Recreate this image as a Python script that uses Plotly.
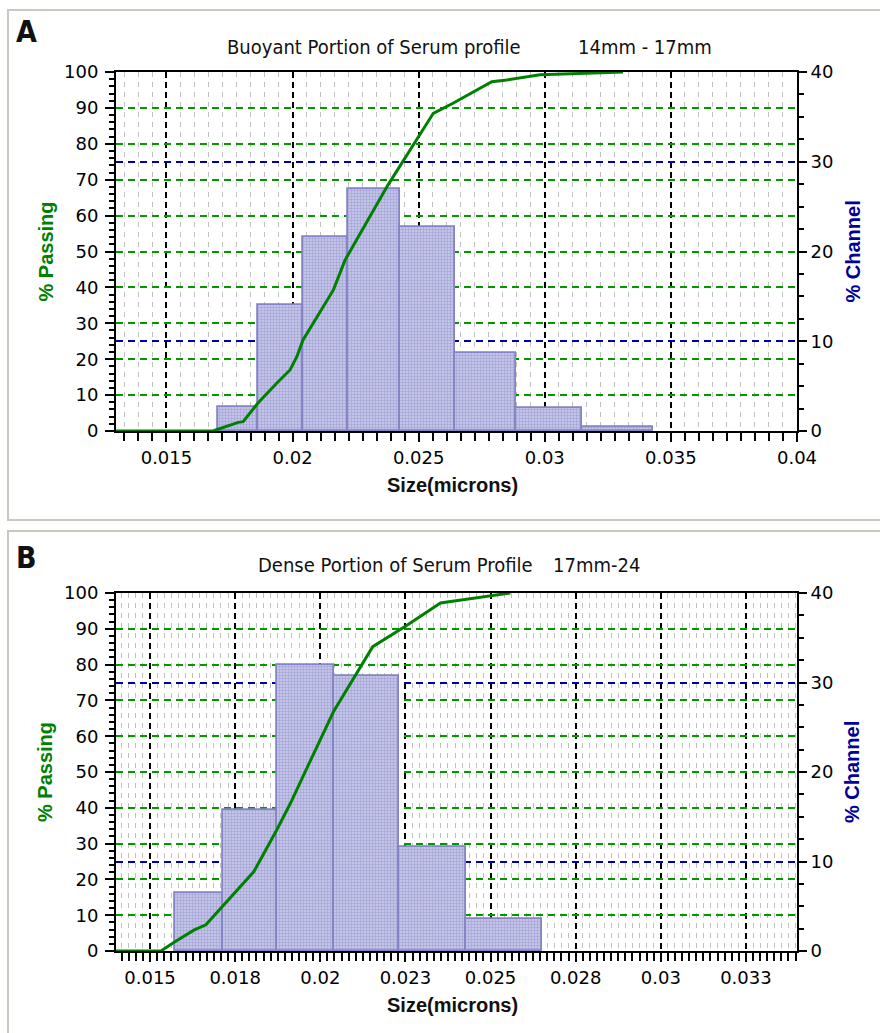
import plotly.graph_objects as go

W, H = 880, 1033

# ---------------- Panel A data ----------------
a_title = "Buoyant Portion of Serum profile"
a_subtitle = "14mm - 17mm"
a_bin_edges = [0.01704, 0.01863, 0.02041, 0.0222, 0.02426, 0.02644, 0.02886, 0.03147, 0.03429]
a_channel = [2.7, 14.0, 21.6, 27.0, 22.7, 8.7, 2.6, 0.4]
a_cum_x = [0.013, 0.01685, 0.01704, 0.01785, 0.01804, 0.01863, 0.01937, 0.0199, 0.02017,
           0.02041, 0.02162, 0.02208, 0.02378, 0.02492, 0.02558, 0.02636, 0.0279, 0.02849,
           0.02981, 0.0331]
a_cum_y = [0, 0, 0.5, 2.4, 2.6, 7.8, 13.3, 17, 20.7, 25.3, 39.3, 47.6, 68.5, 81, 88.5, 91.3,
           97.3, 97.8, 99.2, 100]
a_tickvals = [0.015, 0.02, 0.025, 0.03, 0.035, 0.04]
a_ticktext = ["0.015", "0.02", "0.025", "0.03", "0.035", "0.04"]

# ---------------- Panel B data ----------------
b_title = "Dense Portion of Serum Profile"
b_subtitle = "17mm-24"
b_bin_edges = [0.01574, 0.01713, 0.01872, 0.0204, 0.02231, 0.02428, 0.02651]
b_channel = [6.5, 15.7, 32.0, 30.7, 11.6, 3.6]
b_cum_x = [0.014, 0.01532, 0.01573, 0.01630, 0.01664, 0.01713, 0.01805, 0.01872, 0.01913,
           0.01972, 0.02039, 0.02154, 0.0225, 0.02353, 0.025, 0.02558]
b_cum_y = [0, 0, 2.6, 5.9, 7.3, 12.4, 22.2, 33.8, 41.4, 53.4, 66.9, 85, 90.7, 97.2, 99.3, 100]
b_tickvals = [0.015, 0.0175, 0.02, 0.0225, 0.025, 0.0275, 0.03, 0.0325]
b_ticktext = ["0.015", "0.018", "0.02", "0.023", "0.025", "0.028", "0.03", "0.033"]

x_label = "Size(microns)"
left_label = "% Passing"
right_label = "% Channel"

GREEN = "#008000"
GRID_GREEN = "#009a00"
GRID_BLUE = "#0000a0"
BAR_FILL = "#b8b8e2"
BAR_LINE = "#8484c4"
TICKFONT = dict(family="DejaVu Sans", size=18, color="black")


def px_x(p):
    return p / W


def px_y(p):
    return 1 - p / H


def bars(edges, vals, yaxis, xaxis):
    centers = [(edges[i] + edges[i + 1]) / 2 for i in range(len(vals))]
    widths = [edges[i + 1] - edges[i] for i in range(len(vals))]
    return go.Bar(
        x=centers, y=vals, width=widths, xaxis=xaxis, yaxis=yaxis,
        marker=dict(color=BAR_FILL, line=dict(color=BAR_LINE, width=1.8),
                    pattern=dict(shape=".", fgcolor="#7c7cc0", bgcolor="#cdcdee",
                                 size=3, solidity=0.5)),
        showlegend=False, hoverinfo="x+y",
    )


def line(xs, ys, yaxis, xaxis):
    return go.Scatter(x=xs, y=ys, mode="lines", xaxis=xaxis, yaxis=yaxis,
                      line=dict(color=GREEN, width=3), showlegend=False)


fig = go.Figure()
fig.add_trace(bars(a_bin_edges, a_channel, "y", "x"))
fig.add_trace(line(a_cum_x, a_cum_y, "y2", "x"))
fig.add_trace(bars(b_bin_edges, b_channel, "y3", "x2"))
fig.add_trace(line(b_cum_x, b_cum_y, "y4", "x2"))

xdom = [px_x(116), px_x(797)]
a_ydom = [px_y(431), px_y(72)]
b_ydom = [px_y(951), px_y(593)]


def xaxis_cfg(rng, tv, tt, minor_dtick, anchor):
    return dict(
        domain=xdom, anchor=anchor, range=rng, tickmode="array", tickvals=tv, ticktext=tt,
        automargin=False,
        showline=True, linecolor="black", linewidth=2, mirror=True,
        ticks="outside", ticklen=9, tickwidth=1.5, tickcolor="black",
        tickfont=TICKFONT, ticklabelstandoff=0,
        showgrid=True, gridcolor="black", gridwidth=1.5, griddash="6px,4px",
        zeroline=False,
        minor=dict(tickmode="linear", tick0=tv[0], dtick=minor_dtick, ticks="outside",
                   ticklen=8, tickwidth=1.5, tickcolor="black",
                   showgrid=True, gridcolor="#c0c0c0", gridwidth=1.3, griddash="5px,5px"),
    )


def right_cfg(dom, anchor):
    return dict(
        domain=dom, anchor=anchor, side="right", range=[0, 40], tickmode="linear", tick0=0,
        dtick=10, showline=True, linecolor="black", linewidth=2, automargin=False,
        ticks="outside", ticklen=8, tickwidth=1.5, tickcolor="black",
        tickfont=TICKFONT, ticklabelstandoff=0,
        showgrid=True, gridcolor=GRID_BLUE, gridwidth=1.5, griddash="7px,5px",
        zeroline=False,
        minor=dict(tickmode="linear", tick0=0, dtick=2.5, ticks="outside", ticklen=5,
                   tickwidth=1.5, tickcolor="black", showgrid=False),
    )


def left_cfg(overlay, anchor):
    return dict(
        overlaying=overlay, anchor=anchor, side="left", range=[0, 100], tickmode="linear",
        tick0=0, dtick=10, showline=True, linecolor="black", linewidth=2, automargin=False,
        ticks="outside", ticklen=9, tickwidth=1.5, tickcolor="black",
        tickfont=TICKFONT, ticklabelstandoff=3,
        showgrid=True, gridcolor=GRID_GREEN, gridwidth=1.5, griddash="7px,5px",
        zeroline=False,
        minor=dict(tickmode="linear", tick0=0, dtick=2, ticks="outside", ticklen=5,
                   tickwidth=1.5, tickcolor="black", showgrid=False),
    )


fig.update_layout(
    width=W, height=H, margin=dict(l=0, r=0, t=0, b=0, autoexpand=False),
    paper_bgcolor="white", plot_bgcolor="white", bargap=0, showlegend=False,
    xaxis=xaxis_cfg([0.013, 0.04], a_tickvals, a_ticktext, 0.005 / 9, "y"),
    yaxis=right_cfg(a_ydom, "x"),
    yaxis2=left_cfg("y", "x"),
    xaxis2=xaxis_cfg([0.014, 0.034], b_tickvals, b_ticktext, 0.0025 / 12, "y3"),
    yaxis3=right_cfg(b_ydom, "x2"),
    yaxis4=left_cfg("y3", "x2"),
)

# panel frames
for y0, y1 in [(10, 520), (531, 1040)]:
    fig.add_shape(type="rect", xref="paper", yref="paper", x0=px_x(8), x1=1.02,
                  y0=px_y(y1), y1=px_y(y0), line=dict(color="#c8c8c0", width=2),
                  layer="below")

TITLE_FONT = dict(family="DejaVu Sans Condensed", size=20, color="#111111")
PANEL_FONT = dict(family="DejaVu Sans Condensed", size=30, color="#111111")
LABEL_FONT = dict(family="Liberation Sans, Arial", size=20)

ann = []


def add_text(text, x, y, font, angle=0, xanchor="center"):
    ann.append(dict(text=text, x=px_x(x), y=px_y(y), xref="paper", yref="paper",
                    xanchor=xanchor, yanchor="middle", showarrow=False, font=font,
                    textangle=angle))


for (lab, ly), (t, tx), (st, stx), (ty, ytop, ybot) in [
    (("A", 31), (a_title, 225), (a_subtitle, 576), (47, 72, 431)),
    (("B", 557), (b_title, 256), (b_subtitle, 551), (565, 593, 951)),
]:
    add_text("<b>%s</b>" % lab, 26, ly, PANEL_FONT)
    add_text(t, tx, ty, TITLE_FONT, xanchor="left")
    add_text(st, stx, ty, TITLE_FONT, xanchor="left")
    mid = (ytop + ybot) / 2
    add_text("<b>%s</b>" % x_label, 452, ybot + 54, dict(LABEL_FONT, color="#111111"))
    add_text("<b>%s</b>" % left_label, 45, mid, dict(LABEL_FONT, color=GREEN), angle=-90)
    add_text("<b>%s</b>" % right_label, 852, mid, dict(LABEL_FONT, color="#000099"), angle=-90)

fig.update_layout(annotations=ann)
fig.write_html("out.html")
